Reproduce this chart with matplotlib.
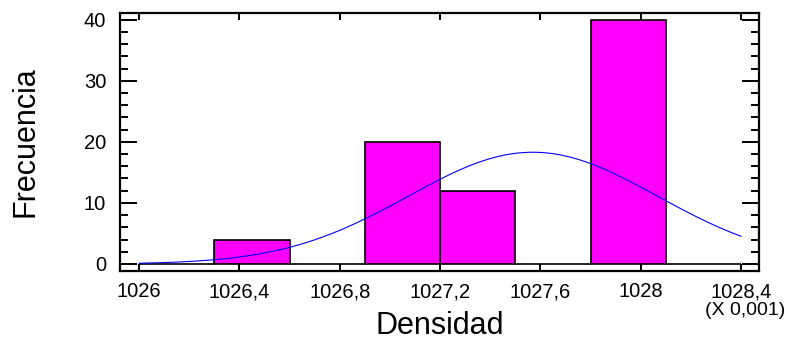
#histogram of density with fitted normal curve
import numpy as np
import matplotlib.pyplot as plt
from matplotlib.ticker import MultipleLocator, FuncFormatter

plt.rcParams['font.family'] = ['Liberation Sans', 'DejaVu Sans']

# bins of 0,3 (X 0,001) between 1026 and 1028,4
bin_edges = [1026.0, 1026.3, 1026.6, 1026.9, 1027.2, 1027.5, 1027.8, 1028.1, 1028.4]
frecuencia = [0, 4, 0, 20, 12, 0, 40, 0]

# normal fit parameters
media = 1027.57
desv = 0.497

edges = np.array(bin_edges)
width = np.diff(edges)
n_total = sum(frecuencia)

fig = plt.figure(figsize=(8.12, 3.44), dpi=100)
ax = fig.add_axes([0.1478, 0.2122, 0.787, 0.75])

ax.bar(edges[:-1], frecuencia, width=width, align='edge',
       color='#ff00ff', edgecolor='black', linewidth=1.2, zorder=2)

x = np.linspace(edges[0], edges[-1], 300)
y = n_total * width[0] / (desv * np.sqrt(2 * np.pi)) * np.exp(-0.5 * ((x - media) / desv) ** 2)
ax.plot(x, y, color='#0000ff', linewidth=0.8, zorder=3)

ax.set_xlim(1025.924, 1028.472)
ax.set_ylim(-1.15, 41.1)
ax.xaxis.set_major_locator(MultipleLocator(0.4))
ax.yaxis.set_major_locator(MultipleLocator(10))
ax.yaxis.set_minor_locator(MultipleLocator(2))
ax.xaxis.set_major_formatter(FuncFormatter(lambda v, p: f"{v:.1f}".rstrip('0').rstrip('.').replace('.', ',')))

ax.tick_params(axis='x', which='major', direction='in', length=5, width=1.4,
               top=True, bottom=True, labelsize=14.5, pad=8)
ax.tick_params(axis='y', which='major', direction='in', length=12, width=1.4,
               left=True, right=True, labelsize=14.5, pad=10)
ax.tick_params(axis='y', which='minor', direction='in', length=6, width=1.4,
               left=True, right=True)
for s in ax.spines.values():
    s.set_linewidth(1.6)

ax.set_xlabel('Densidad', fontsize=22, labelpad=7)
ax.set_ylabel('Frecuencia', fontsize=22, labelpad=31)
fig.text(705 / 812, 1 - 302 / 344, '(X 0,001)', fontsize=14, ha='left', va='top')

plt.savefig('out.png', dpi=100)
